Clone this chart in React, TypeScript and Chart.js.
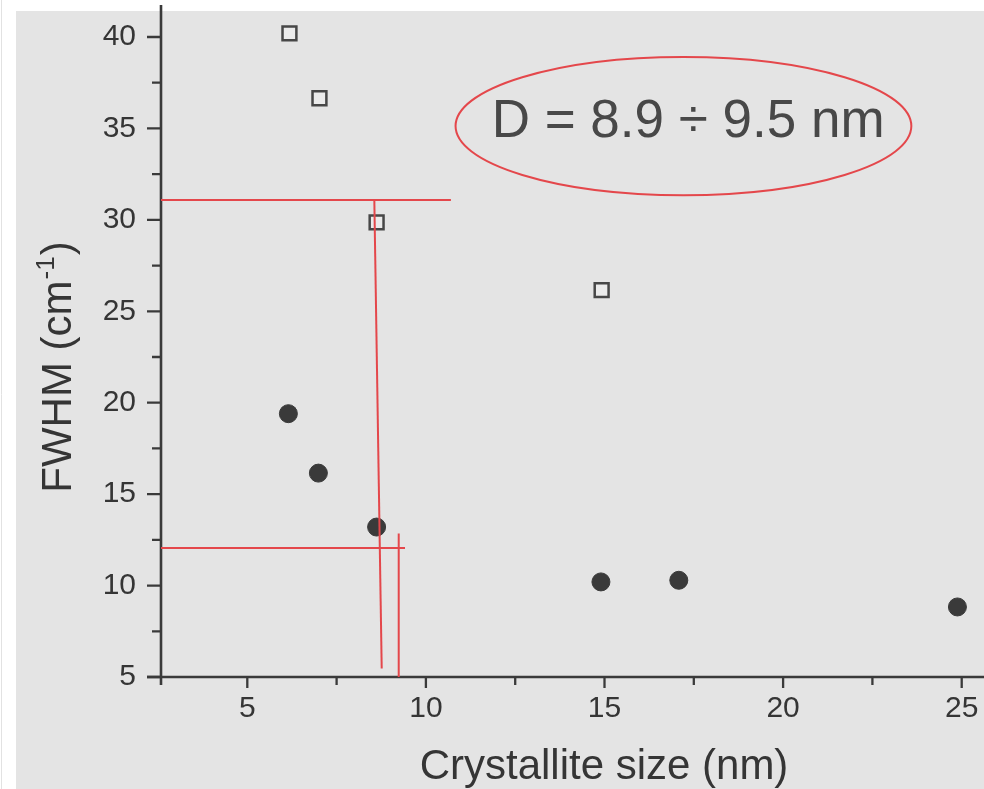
import React, { useEffect, useRef } from 'react';
import { Chart, registerables } from 'chart.js';

Chart.register(...registerables);

// ---- axis ranges & ticks ----
const X_MIN = 2.584;
const X_MAX = 25.624;
const Y_MIN = 5;
const Y_MAX = 41.75;
const xMajorTicks = [5, 10, 15, 20, 25];
const xMinorTicks = [7.5, 12.5, 17.5, 22.5];
const yMajorTicks = [5, 10, 15, 20, 25, 30, 35, 40];
const yMinorTicks = [7.5, 12.5, 17.5, 22.5, 27.5, 32.5, 37.5];

// ---- data ----
const squareX = [6.18, 7.02, 8.62, 14.92];
const squareY = [40.2, 36.65, 29.86, 26.16];
const circleX = [6.15, 6.99, 8.62, 14.9, 17.08, 24.88];
const circleY = [19.4, 16.15, 13.2, 10.2, 10.29, 8.83];

// ---- red guide lines (data coordinates) ----
const guideTopX = [X_MIN, 10.7];
const guideTopY = [31.08, 31.08];
const guideSlantX = [8.556, 8.763];
const guideSlantY = [31.08, 5.46];
const guideLowX = [X_MIN, 9.415];
const guideLowY = [12.06, 12.06];
const guideVertX = [9.239, 9.239];
const guideVertY = [12.85, 5.0];

// ---- annotation ----
const ellipseCenter = [17.21, 35.13];
const ellipseRadii = [6.38, 3.78];
const annotationText = 'D = 8.9 \u00F7 9.5 nm';
const annotationPos = [17.34, 34.51];

const xTitle = 'Crystallite size (nm)';
const yTitleMain = 'FWHM (cm';
const yTitleSup = '-1';
const yTitleEnd = ')';

const FONT = '"Liberation Sans", Arial, Helvetica, sans-serif';
const AXIS_COLOR = '#3a3a3a';
const TEXT_COLOR = '#353535';
const RED = '#e4474b';

const toPts = (xs: number[], ys: number[]) => xs.map((x, i) => ({ x, y: ys[i] }));

const bgPlugin = {
  id: 'bgPlugin',
  beforeDraw(chart: any) {
    const { ctx, width, height } = chart;
    ctx.save();
    ctx.fillStyle = '#ffffff';
    ctx.fillRect(0, 0, width, height);
    ctx.fillStyle = '#e4e4e4';
    ctx.fillRect(16, 11, width - 16, height - 11);
    ctx.strokeStyle = '#e2e2e2';
    ctx.lineWidth = 1;
    ctx.beginPath();
    ctx.moveTo(1.5, 0);
    ctx.lineTo(1.5, height);
    ctx.stroke();
    ctx.restore();
  },
};

const axesPlugin = {
  id: 'axesPlugin',
  beforeDatasetsDraw(chart: any) {
    const { ctx, chartArea } = chart;
    const xs = chart.scales.x;
    const ys = chart.scales.y;
    const left = chartArea.left;
    const bottom = chartArea.bottom;
    ctx.save();
    ctx.strokeStyle = AXIS_COLOR;
    ctx.lineWidth = 2.6;
    ctx.lineCap = 'butt';
    ctx.beginPath();
    ctx.moveTo(left, chartArea.top);
    ctx.lineTo(left, bottom + 8);
    ctx.moveTo(left - 14, bottom);
    ctx.lineTo(chartArea.right, bottom);
    ctx.stroke();
    ctx.lineWidth = 2.3;
    ctx.beginPath();
    yMajorTicks.forEach((v) => {
      const p = ys.getPixelForValue(v);
      ctx.moveTo(left - 14, p);
      ctx.lineTo(left, p);
    });
    yMinorTicks.forEach((v) => {
      const p = ys.getPixelForValue(v);
      ctx.moveTo(left - 9, p);
      ctx.lineTo(left, p);
    });
    xMajorTicks.forEach((v) => {
      const p = xs.getPixelForValue(v);
      ctx.moveTo(p, bottom);
      ctx.lineTo(p, bottom + 11);
    });
    xMinorTicks.forEach((v) => {
      const p = xs.getPixelForValue(v);
      ctx.moveTo(p, bottom);
      ctx.lineTo(p, bottom + 8);
    });
    ctx.stroke();
    ctx.restore();
  },
};

const annotPlugin = {
  id: 'annotPlugin',
  afterDraw(chart: any) {
    const { ctx } = chart;
    const xs = chart.scales.x;
    const ys = chart.scales.y;
    ctx.save();
    // ellipse
    const cx = xs.getPixelForValue(ellipseCenter[0]);
    const cy = ys.getPixelForValue(ellipseCenter[1]);
    const rx = Math.abs(xs.getPixelForValue(ellipseCenter[0] + ellipseRadii[0]) - cx);
    const ry = Math.abs(ys.getPixelForValue(ellipseCenter[1] + ellipseRadii[1]) - cy);
    ctx.strokeStyle = RED;
    ctx.lineWidth = 2;
    ctx.beginPath();
    ctx.ellipse(cx, cy, rx, ry, 0, 0, Math.PI * 2);
    ctx.stroke();
    // annotation text
    ctx.fillStyle = '#484848';
    ctx.font = `53px ${FONT}`;
    ctx.textAlign = 'center';
    ctx.textBaseline = 'alphabetic';
    ctx.fillText(annotationText, xs.getPixelForValue(annotationPos[0]), ys.getPixelForValue(annotationPos[1]));

    // x title
    ctx.fillStyle = TEXT_COLOR;
    ctx.font = `42px ${FONT}`;
    ctx.textAlign = 'center';
    ctx.fillText(xTitle, 604, 779);

    // y title (rotated, with superscript)
    ctx.translate(70.5, 367);
    ctx.rotate(-Math.PI / 2);
    ctx.textAlign = 'left';
    ctx.font = `42px ${FONT}`;
    const w1 = ctx.measureText(yTitleMain).width;
    const w3 = ctx.measureText(yTitleEnd).width;
    ctx.font = `26px ${FONT}`;
    const w2 = ctx.measureText(yTitleSup).width;
    const total = w1 + w2 + w3 + 2;
    let x0 = -total / 2;
    ctx.font = `42px ${FONT}`;
    ctx.fillText(yTitleMain, x0, 0);
    x0 += w1 + 1;
    ctx.font = `26px ${FONT}`;
    ctx.fillText(yTitleSup, x0, -17);
    x0 += w2 + 1;
    ctx.font = `42px ${FONT}`;
    ctx.fillText(yTitleEnd, x0, 0);
    ctx.restore();
  },
};

const zeroPadding = (s: any) => {
  s.paddingTop = 0;
  s.paddingBottom = 0;
  s.paddingLeft = 0;
  s.paddingRight = 0;
};

export default function App() {
  const canvasRef = useRef<HTMLCanvasElement | null>(null);

  useEffect(() => {
    if (!canvasRef.current) return;
    const redLine = (xs: number[], ys: number[]) => ({
      data: toPts(xs, ys),
      showLine: true,
      borderColor: RED,
      borderWidth: 2,
      pointRadius: 0,
      fill: false,
      order: 0,
    });
    const chart = new Chart(canvasRef.current, {
      type: 'scatter',
      data: {
        datasets: [
          redLine(guideTopX, guideTopY),
          redLine(guideSlantX, guideSlantY),
          redLine(guideLowX, guideLowY),
          redLine(guideVertX, guideVertY),
          {
            data: toPts(squareX, squareY),
            pointStyle: 'rect',
            pointRadius: 9.8,
            pointBorderWidth: 2.5,
            pointBorderColor: '#474747',
            pointBackgroundColor: '#ebebeb',
            showLine: false,
            order: 1,
          } as any,
          {
            data: toPts(circleX, circleY),
            pointStyle: 'circle',
            pointRadius: 9,
            pointBorderWidth: 1,
            pointBorderColor: '#3a3a3a',
            pointBackgroundColor: '#3a3a3a',
            showLine: false,
            order: 1,
          } as any,
        ],
      },
      options: {
        animation: false,
        responsive: false,
        devicePixelRatio: 1,
        layout: { autoPadding: false, padding: { top: 5, right: 0, left: 0, bottom: 0 } },
        plugins: { legend: { display: false }, tooltip: { enabled: false } },
        scales: {
          x: {
            type: 'linear',
            min: X_MIN,
            max: X_MAX,
            grid: { display: false, drawTicks: false },
            border: { display: false },
            afterBuildTicks: (s: any) => {
              s.ticks = xMajorTicks.map((v) => ({ value: v }));
            },
            afterFit: (s: any) => {
              s.height = 112;
              zeroPadding(s);
            },
            ticks: {
              padding: 14,
              maxRotation: 0,
              autoSkip: false,
              color: TEXT_COLOR,
              font: { family: FONT, size: 30 },
              callback: (v: any) => String(v),
            },
          },
          y: {
            type: 'linear',
            min: Y_MIN,
            max: Y_MAX,
            grid: { display: false, drawTicks: false },
            border: { display: false },
            afterBuildTicks: (s: any) => {
              s.ticks = yMajorTicks.map((v) => ({ value: v }));
            },
            afterFit: (s: any) => {
              s.width = 161;
              zeroPadding(s);
            },
            ticks: {
              padding: 25,
              autoSkip: false,
              color: TEXT_COLOR,
              font: { family: FONT, size: 30 },
              callback: (v: any) => String(v),
            },
          },
        },
      } as any,
      plugins: [bgPlugin, axesPlugin, annotPlugin],
    });
    return () => chart.destroy();
  }, []);

  return (
    <div style={{ position: 'fixed', left: 0, top: 0, width: 984, height: 789 }}>
      <canvas ref={canvasRef} width={984} height={789} style={{ display: 'block' }} />
    </div>
  );
}
